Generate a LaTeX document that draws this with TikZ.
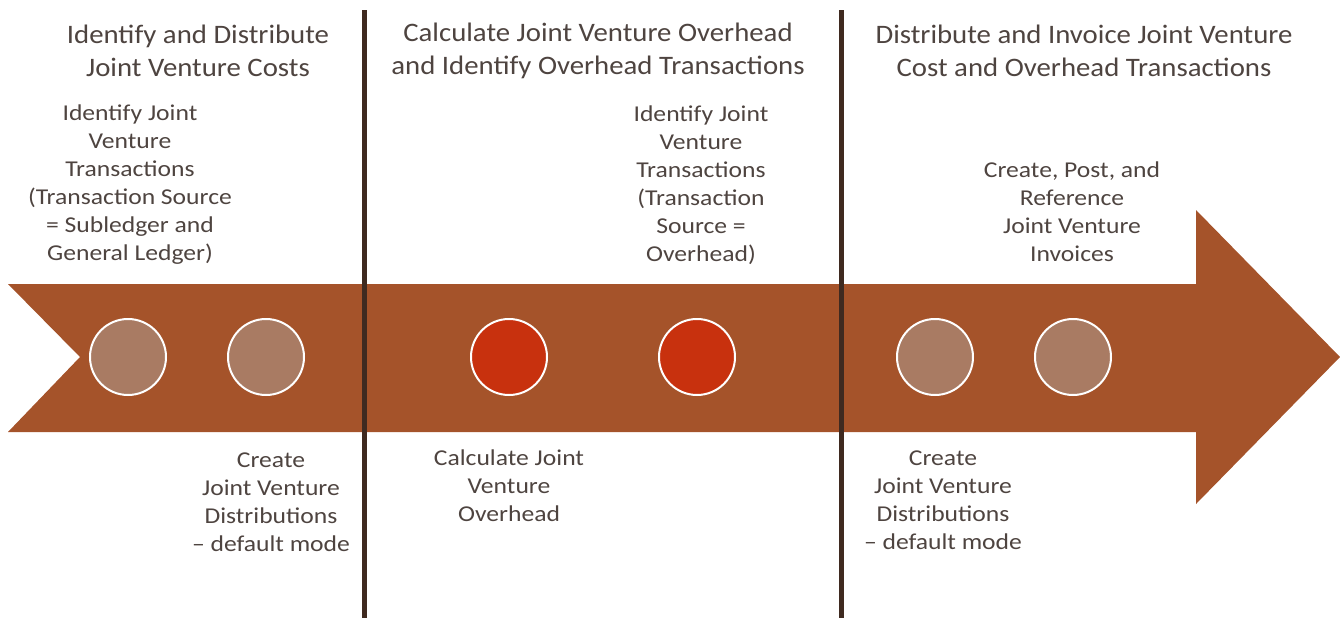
\documentclass[tikz,border=0pt]{standalone}
\usepackage{fontspec}
\setmainfont{Carlito}
\newfontfamily\headfont{Carlito}[FakeStretch=1.08]
\newfontfamily\taskfont{Carlito}[FakeStretch=1.13]
\definecolor{rust}{HTML}{A5532A}
\definecolor{pale}{HTML}{A97B63}
\definecolor{hot}{HTML}{C8310E}
\definecolor{bar}{HTML}{3F2A20}
\definecolor{ink}{HTML}{4E4440}
\begin{document}
\begin{tikzpicture}[x=0.75pt,y=-0.75pt]
\tikzstyle{milestone}=[circle,draw=white,line width=1.5pt,minimum size=57pt,inner sep=0pt]
\tikzstyle{phase}=[text=ink,align=center,font=\headfont\fontsize{20}{24.75}\selectfont]
\tikzstyle{task}=[text=ink,align=center,font=\taskfont\fontsize{17}{21}\selectfont]
\useasboundingbox (0,0) rectangle (1340,618);
% timeline arrow
\fill[rust] (8,284) -- (1196,284) -- (1196,210) -- (1340,357) -- (1196,504)
  -- (1196,432) -- (8,432) -- (80,357) -- cycle;
% phase separators
\draw[bar,line width=3.75pt] (364,10) -- (364,618);
\draw[bar,line width=3.75pt] (841,10) -- (841,618);
% milestones
\node[milestone,fill=pale] (A1) at (128,357) {};
\node[milestone,fill=pale] (A2) at (266,357) {};
\node[milestone,fill=hot] (B1) at (509,357) {};
\node[milestone,fill=hot] (B2) at (697,357) {};
\node[milestone,fill=pale] (C1) at (935,357) {};
\node[milestone,fill=pale] (C2) at (1073,357) {};
% phase titles
\node[phase] (P1) at (198,51) {Identify and Distribute\\Joint Venture Costs};
\node[phase] (P2) at (598,51) {Calculate Joint Venture Overhead\\and Identify Overhead Transactions};
\node[phase] (P3) at (1084,51) {Distribute and Invoice Joint Venture\\Cost and Overhead Transactions};
% task labels
\node[task] (TA1) at (130,185) {Identify Joint\\Venture\\Transactions\\(Transaction Source\\= Subledger and\\General Ledger)};
\node[task] (TA2) at (271,502) {Create\\Joint Venture\\Distributions\\– default mode};
\node[task] (TB1) at (509,486) {Calculate Joint\\Venture\\Overhead};
\node[task] (TB2) at (701,185) {Identify Joint\\Venture\\Transactions\\(Transaction\\Source =\\Overhead)};
\node[task] (TC2) at (1072,212) {Create, Post, and\\Reference\\Joint Venture\\Invoices};
\node[task] (TC1) at (943,500) {Create\\Joint Venture\\Distributions\\– default mode};
\end{tikzpicture}
\end{document}
